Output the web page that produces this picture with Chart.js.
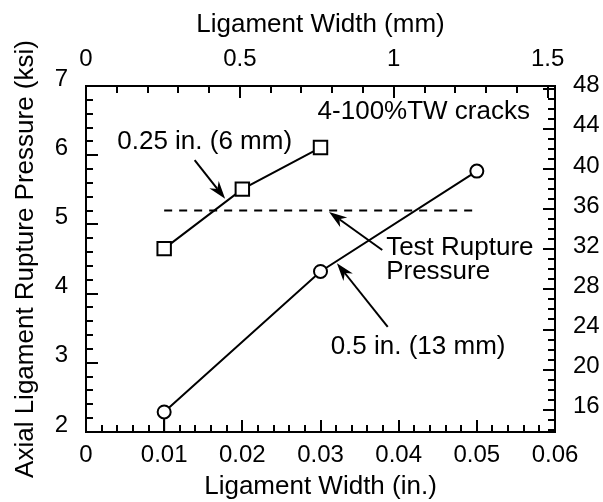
<!DOCTYPE html>
<html lang="en">
<head>
<meta charset="UTF-8">
<title>Axial Ligament Rupture Pressure</title>
<script src="https://cdn.jsdelivr.net/npm/chart.js"></script>
<style>
    body { margin: 0; background: #fff; }
    #wrap { width: 603px; height: 502px; }
</style>
</head>
<body>
<div id="wrap"><canvas id="chart" width="603" height="502"></canvas></div>
<script>
// values
const width025 = [0.01, 0.02, 0.03];      // in.
const rupture025 = [4.65, 5.51, 6.11];    // ksi
const width05 = [0.01, 0.03, 0.05];
const rupture05 = [2.29, 4.32, 5.77];
const testWidth = [0.01, 0.05];
const testRupture = [5.2, 5.2];

// tick labels
const inTicks = [0, 0.01, 0.02, 0.03, 0.04, 0.05, 0.06];
const inLabels = ['0', '0.01', '0.02', '0.03', '0.04', '0.05', '0.06'];
const mmTicks = [0, 0.5, 1, 1.5];
const mmLabels = ['0', '0.5', '1', '1.5'];
const ksiTicks = [2, 3, 4, 5, 6, 7];
const mpaTicks = [16, 20, 24, 28, 32, 36, 40, 44, 48];

const KSI_TO_MPA = 6.894757;
const IN_TO_MM = 25.4;

// notes and arrows, in data units (in., ksi)
const notes = [
    { text: '0.25 in. (6 mm)', x: 0.0040, y: 6.19, align: 'left' },
    { text: '4-100%TW cracks', x: 0.0568, y: 6.62, align: 'right' },
    { text: 'Test Rupture', x: 0.0384, y: 4.66, align: 'left' },
    { text: 'Pressure', x: 0.0384, y: 4.31, align: 'left' },
    { text: '0.5 in. (13 mm)', x: 0.0313, y: 3.23, align: 'left' }
];
const arrows = [
    { from: [0.0139, 5.93], to: [0.0178, 5.37] },
    { from: [0.0379, 4.63], to: [0.0311, 5.18] },
    { from: [0.0386, 3.52], to: [0.0321, 4.44] }
];

Chart.defaults.font.family = "'Liberation Sans', Arial, sans-serif";
Chart.defaults.color = '#000';

const toXY = (xs, ys) => xs.map((x, i) => ({ x: x, y: ys[i] }));

function fixedSize(prop, size) {
    return function (scale) { scale[prop] = size; };
}

function drawTickSet(ctx, scale, area, side, from, to, step, every) {
    const n = Math.round((to - from) / step);
    for (let i = 0; i <= n; i++) {
        const v = from + i * step;
        if (v < scale.min - 1e-9 || v > scale.max + 1e-9) continue;
        const len = (i % every === 0) ? 12 : 7;
        const p = Math.round(scale.getPixelForValue(v));
        ctx.beginPath();
        if (side === 'bottom') { ctx.moveTo(p, area.bottom); ctx.lineTo(p, area.bottom - len); }
        if (side === 'top') { ctx.moveTo(p, area.top); ctx.lineTo(p, area.top + len); }
        if (side === 'left') { ctx.moveTo(area.left, p); ctx.lineTo(area.left + len, p); }
        if (side === 'right') { ctx.moveTo(area.right, p); ctx.lineTo(area.right - len, p); }
        ctx.stroke();
    }
}

// inward major/minor tick marks on all four sides
const inwardTicks = {
    id: 'inwardTicks',
    afterDraw(chart) {
        const ctx = chart.ctx, a = chart.chartArea, s = chart.scales;
        ctx.save();
        ctx.strokeStyle = '#000';
        ctx.lineWidth = 2;
        drawTickSet(ctx, s.x, a, 'bottom', 0, 0.06, 0.002, 5);
        drawTickSet(ctx, s.x2, a, 'top', 0, 1.5, 0.1, 5);
        drawTickSet(ctx, s.y, a, 'left', 2, 7, 0.2, 5);
        drawTickSet(ctx, s.y2, a, 'right', 12, 48, 1, 4);
        ctx.restore();
    }
};

// text notes with arrows
const notesPlugin = {
    id: 'notes',
    afterDatasetsDraw(chart) {
        const ctx = chart.ctx, sx = chart.scales.x, sy = chart.scales.y;
        ctx.save();
        ctx.fillStyle = '#000';
        ctx.strokeStyle = '#000';
        ctx.font = "26px 'Liberation Sans', Arial, sans-serif";
        ctx.textBaseline = 'middle';
        notes.forEach(n => {
            ctx.textAlign = n.align;
            ctx.fillText(n.text, sx.getPixelForValue(n.x), sy.getPixelForValue(n.y));
        });
        ctx.lineWidth = 2;
        arrows.forEach(ar => {
            const x1 = sx.getPixelForValue(ar.from[0]), y1 = sy.getPixelForValue(ar.from[1]);
            const x2 = sx.getPixelForValue(ar.to[0]), y2 = sy.getPixelForValue(ar.to[1]);
            const ang = Math.atan2(y2 - y1, x2 - x1);
            const L = 18, W = 6;
            const mx = x2 - Math.cos(ang) * L * 0.7, my = y2 - Math.sin(ang) * L * 0.7;
            ctx.beginPath();
            ctx.moveTo(x1, y1);
            ctx.lineTo(mx, my);
            ctx.stroke();
            const bx = x2 - Math.cos(ang) * L, by = y2 - Math.sin(ang) * L;
            const nx = -Math.sin(ang) * W, ny = Math.cos(ang) * W;
            ctx.beginPath();
            ctx.moveTo(x2, y2);
            ctx.lineTo(bx + nx, by + ny);
            ctx.lineTo(mx, my);
            ctx.lineTo(bx - nx, by - ny);
            ctx.closePath();
            ctx.fill();
        });
        ctx.restore();
    }
};

const tickFont = { size: 24 };
const titleFont = { size: 26 };
const noGrid = { display: false, drawTicks: false };
const blackBorder = { display: true, color: '#000', width: 2 };

new Chart(document.getElementById('chart'), {
    type: 'scatter',
    data: {
        datasets: [
            {
                label: '0.25 in. (6 mm)',
                data: toXY(width025, rupture025),
                showLine: true,
                borderColor: '#000',
                borderWidth: 2,
                pointStyle: 'rect',
                pointRadius: 9.5,
                pointBorderWidth: 2,
                pointBackgroundColor: '#fff',
                pointBorderColor: '#000'
            },
            {
                label: '0.5 in. (13 mm)',
                data: toXY(width05, rupture05),
                showLine: true,
                borderColor: '#000',
                borderWidth: 2,
                pointStyle: 'circle',
                pointRadius: 6.5,
                pointBorderWidth: 2,
                pointBackgroundColor: '#fff',
                pointBorderColor: '#000'
            },
            {
                label: 'Test Rupture Pressure',
                data: toXY(testWidth, testRupture),
                showLine: true,
                borderColor: '#000',
                borderWidth: 2,
                borderDash: [8, 7],
                pointRadius: 0
            },
            {
                label: 'drop',
                data: toXY([width05[0], width05[0]], [2, rupture05[0]]),
                showLine: true,
                borderColor: '#000',
                borderWidth: 2,
                pointRadius: 0
            }
        ]
    },
    options: {
        responsive: false,
        animation: false,
        devicePixelRatio: 1,
        layout: { padding: 0 },
        plugins: {
            legend: { display: false },
            tooltip: { enabled: false }
        },
        scales: {
            x: {
                type: 'linear', position: 'bottom', min: 0, max: 0.06,
                afterFit: fixedSize('height', 70),
                afterBuildTicks: s => { s.ticks = inTicks.map(v => ({ value: v })); },
                ticks: { font: tickFont, padding: 9, callback: (v, i) => inLabels[i] },
                grid: noGrid,
                border: blackBorder,
                title: { display: true, text: 'Ligament Width (in.)', font: titleFont, padding: { top: 0, bottom: 0 } }
            },
            x2: {
                type: 'linear', position: 'top', min: 0, max: 0.06 * IN_TO_MM,
                afterFit: fixedSize('height', 86),
                afterBuildTicks: s => { s.ticks = mmTicks.map(v => ({ value: v })); },
                ticks: { font: tickFont, padding: 12, callback: (v, i) => mmLabels[i] },
                grid: noGrid,
                border: blackBorder,
                title: { display: true, text: 'Ligament Width (mm)', font: titleFont, padding: { top: 9, bottom: 0 } }
            },
            y: {
                type: 'linear', position: 'left', min: 2, max: 7,
                afterFit: fixedSize('width', 86),
                afterBuildTicks: s => { s.ticks = ksiTicks.map(v => ({ value: v })); },
                ticks: { font: tickFont, padding: 18, labelOffset: -7 },
                grid: noGrid,
                border: blackBorder,
                title: { display: true, text: 'Axial Ligament Rupture Pressure (ksi)', font: titleFont, padding: { top: 10, bottom: 0 } }
            },
            y2: {
                type: 'linear', position: 'right', min: 2 * KSI_TO_MPA, max: 7 * KSI_TO_MPA,
                afterFit: fixedSize('width', 48),
                afterBuildTicks: s => { s.ticks = mpaTicks.map(v => ({ value: v })); },
                ticks: { font: tickFont, padding: 18, labelOffset: -3 },
                grid: noGrid,
                border: blackBorder
            }
        }
    },
    plugins: [inwardTicks, notesPlugin]
});
</script>
</body>
</html>
